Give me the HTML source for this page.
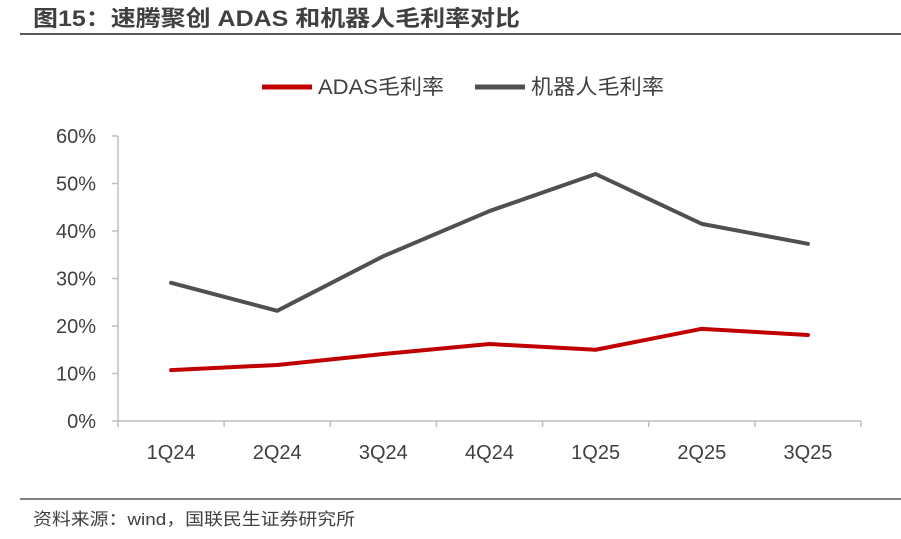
<!DOCTYPE html>
<html><head><meta charset="utf-8"><style>
body{margin:0;background:#fff;width:901px;height:534px;overflow:hidden;font-family:"Liberation Sans","Noto Sans CJK SC",sans-serif;}
</style></head><body>
<svg width="901" height="534" xmlns="http://www.w3.org/2000/svg">
<text x="33" y="26" font-size="22" font-weight="bold" fill="#404040" textLength="487" lengthAdjust="spacingAndGlyphs" font-family="Liberation Sans, Noto Sans CJK SC, sans-serif">图15：速腾聚创 ADAS 和机器人毛利率对比</text>
<line x1="20" y1="34" x2="901" y2="34" stroke="#595959" stroke-width="2"/>
<line x1="20" y1="499" x2="901" y2="499" stroke="#595959" stroke-width="1.5"/>
<text x="33" y="525" font-size="17" fill="#404040" textLength="322" lengthAdjust="spacingAndGlyphs" font-family="Liberation Sans, Noto Sans CJK SC, sans-serif">资料来源：wind，国联民生证券研究所</text>
<g>
<line x1="262" y1="87" x2="312" y2="87" stroke="#C00000" stroke-width="5"/>
<text x="318" y="94" font-size="21" fill="#404040" textLength="126" lengthAdjust="spacingAndGlyphs" font-family="Liberation Sans, Noto Sans CJK SC, sans-serif">ADAS毛利率</text>
<line x1="475" y1="87" x2="525" y2="87" stroke="#505050" stroke-width="5"/>
<text x="531" y="94" font-size="21" fill="#404040" textLength="133" lengthAdjust="spacingAndGlyphs" font-family="Liberation Sans, Noto Sans CJK SC, sans-serif">机器人毛利率</text>
</g>
<g id="axes"></g>
<g id="series"></g>
</svg>
<script>
const categories=["1Q24","2Q24","3Q24","4Q24","1Q25","2Q25","3Q25"];
const adas=[10.7,11.8,14.1,16.2,15.0,19.4,18.1];
const robot=[29.1,23.2,34.7,44.2,52.0,41.5,37.3];
const yTicks=[0,10,20,30,40,50,60];
const NS="http://www.w3.org/2000/svg";
const x0=118,x1=861,y0=421,y1=136;
const bw=(x1-x0)/categories.length;
const xs=i=>x0+bw*(i+0.5);
const ys=v=>y0-(v/60)*(y0-y1);
const ax=document.getElementById('axes'),se=document.getElementById('series');
function mk(t,a,p){const e=document.createElementNS(NS,t);for(const k in a)e.setAttribute(k,a[k]);p.appendChild(e);return e;}
const yl=mk('line',{x1:x0,y1:y1,x2:x0,y2:y0,stroke:'#bfbfbf','stroke-width':1.5},ax);


const xl=mk('line',{x1:x0,y1:y0,x2:x1,y2:y0,stroke:'#bfbfbf','stroke-width':1.5},ax);


yTicks.forEach(v=>{
 const tk=mk('line',{x1:x0-6,y1:ys(v),x2:x0,y2:ys(v),stroke:'#bfbfbf','stroke-width':1.5},ax);
 
 
 const t=mk('text',{x:x0-22,y:ys(v)+7,'font-size':20,fill:'#404040','text-anchor':'end'},ax);
 t.textContent=v+'%';
 
 
});
for(let i=0;i<=categories.length;i++){
 const tk=mk('line',{x1:x0+bw*i,y1:y0,x2:x0+bw*i,y2:y0+6,stroke:'#bfbfbf','stroke-width':1.5},ax);
 
 
}
categories.forEach((c,i)=>{
 const t=mk('text',{x:xs(i),y:y0+38,'font-size':20,fill:'#404040','text-anchor':'middle'},ax);
 t.textContent=c;
 
 
});
function line(d,col,name){
 const p=mk('polyline',{points:d.map((v,i)=>xs(i)+','+ys(v)).join(' '),fill:'none',stroke:col,'stroke-width':4,'stroke-linejoin':'round','stroke-linecap':'round'},se);
 
 
}
line(robot,'#505050','robot-margin-line');
line(adas,'#C00000','adas-margin-line');
</script>
</body></html>
